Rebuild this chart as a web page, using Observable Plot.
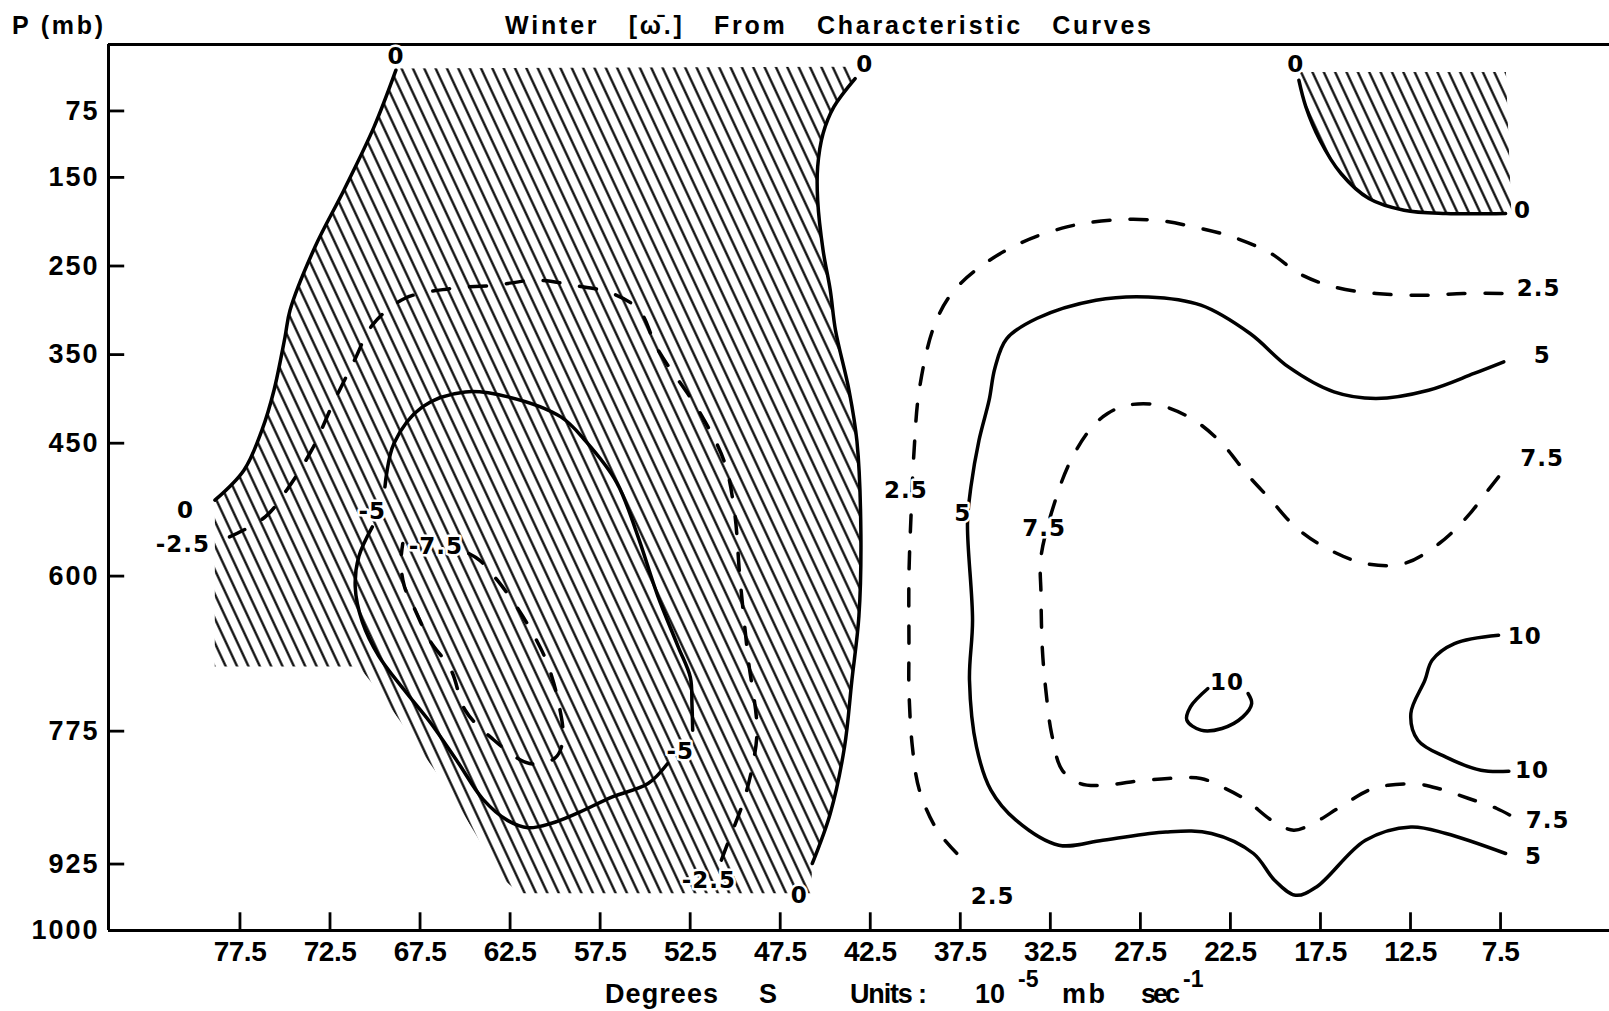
<!DOCTYPE html>
<html>
<head>
<meta charset="utf-8">
<script src="https://cdn.jsdelivr.net/npm/d3@7"></script>
<script src="https://cdn.jsdelivr.net/npm/@observablehq/plot@0.6"></script>
<style>
  body { margin: 0; background: #fff; }
  svg text { white-space: pre; }
</style>
</head>
<body>
<div id="chart"></div>
<script>
// Axis ticks: latitude (degrees S, decreasing to the right) and pressure (mb, increasing downward)
const latTicks = [77.5, 72.5, 67.5, 62.5, 57.5, 52.5, 47.5, 42.5, 37.5, 32.5, 27.5, 22.5, 17.5, 12.5, 7.5];
const pTicks = [75, 150, 250, 350, 450, 600, 775, 925, 1000];
const latDomain = [84.8, 1.45];
const pDomain = [0, 1000];

// Contours of winter [omega], points as [latitude °S, pressure mb]
const zeroWest = [[68.84,29],[70.06,93.3],[71.73,164.4],[73.34,228.8],[74.72,299.9],[75.0,330.4],[75.61,390.2],[76.28,435.3],[77.28,480.5],[78.89,514.3]];
const zeroMid = [[43.34,38.4],[44.52,70.4],[45.12,100.5],[45.42,138.1],[45.42,175.7],[45.12,232.2],[44.72,277.3],[44.43,322.5],[43.68,390.2],[43.24,447.7],[43.02,552.7],[43.13,645.3],[43.52,717.5],[43.93,792.8],[44.72,867.9],[45.72,924.4]];
const zeroEast = [[18.70,40.3],[18.31,70.4],[17.53,108],[16.36,145.6],[14.81,173.8],[12.86,187],[10.53,190.7],[7.22,190.7]];

const minus25 = [[78.08,555.8],[76.10,533.2],[74.91,503],[73.52,457.9],[72.33,405.2],[71.14,356.3],[70.15,316.8],[68.36,286.7],[65.78,275.4],[63.31,271.7],[61.03,266],[59.01,271.7],[56.82,281],[55.33,299.9],[54.31,343.8],[52.03,413.2],[50.6,471.1],[50.03,529],[49.75,598.5],[49.29,691.2],[48.79,773.9],[49.09,819.1],[49.58,856.7],[50.28,894.4],[50.77,920.7]];
const minus5Upper = [[69.45,499.3],[68.95,450.3],[67.37,409],[64.99,392.1],[62.61,397.7],[59.68,420.3],[58.29,448],[56.58,494.4],[55.45,552.3],[54.31,621.7],[53.17,679.6],[52.49,714.3],[52.4,745],[52.36,773.9]];
const minus5Lower = [[53.75,811.5],[54.84,834.1],[56.82,849.2],[58.8,867.9],[60.2,879],[61.5,884],[62.62,876],[64.0,852],[65.4,810],[66.9,766],[68.4,728],[69.8,690],[70.7,652],[71.1,612],[70.9,578],[70.15,544.5]];
const minus75 = [[64.79,574.5],[64.2,582],[63.21,604.6],[62.01,638.5],[61.03,672.4],[60.43,698.6],[59.84,740],[59.57,785.2],[60.01,805.5],[61.42,811.5],[63.6,781.5],[64.99,751.4],[65.78,706],[66.97,672.3],[67.77,638.5],[68.36,612.2],[68.56,585.8],[68.46,563.2]];

const plus25 = [[7.42,281],[9.56,281],[11.89,283],[14.42,281],[16.75,273.6],[18.69,258.5],[20.25,235.9],[22.39,217.2],[24.52,205.9],[26.67,198.3],[29.19,198.3],[31.58,205.9],[34.21,224.6],[36.4,251],[37.98,281],[38.97,318.7],[39.78,390.1],[40.07,459.6],[40.23,529],[40.35,598.5],[40.35,679.6],[40.35,728.8],[40.16,792.8],[39.77,841.6],[38.78,886.8],[37.6,915]];
const plus5 = [[7.32,358.2],[8.97,371.3],[11.5,390.2],[14.42,399.5],[16.75,392.1],[19.28,363.9],[21.41,326.2],[24.14,294.2],[27.06,284.9],[29.97,288.6],[33.23,309],[34.93,332.2],[35.58,365.3],[35.9,401.5],[36.46,446.6],[36.91,499.3],[37.1,540.6],[36.82,649.8],[36.99,717.5],[36.6,792.8],[35.8,841.6],[34.41,875.5],[32.03,903.7],[29.58,898.1],[26.08,888.7],[23.55,890.5],[21.22,913.1],[20.05,943.2],[18.89,960.2],[17.72,950.8],[15.0,898.1],[12.48,883.1],[10.53,890.5],[7.22,913.1]];
const plus75 = [[7.61,488],[8.19,503],[9.36,533.2],[10.91,563.2],[12.86,585.8],[15.0,585.8],[17.14,568.8],[18.89,544.5],[20.25,514.3],[21.61,484.2],[22.97,450.3],[24.52,424],[26.47,407.1],[28.21,407.1],[29.32,416.5],[30.25,433.4],[31.36,469.2],[32.19,512.4],[33.02,578.3],[33.02,619.6],[32.94,683.6],[32.73,732.5],[32.43,777.7],[31.84,819.1],[30.84,834.1],[29.39,836],[28.03,832.3],[25.97,828.4],[24.14,828.4],[22.97,837.9],[21.7,851.8],[20.14,876.6],[18.99,886.8],[17.92,879.2],[16.42,860.8],[14.81,841.6],[13.74,836],[12.04,834.9],[10.82,840.5],[9.27,851],[7.71,862.3],[6.64,873.6]];
const plus10East = [[7.61,666.7],[10.06,676.1],[11.3,694.9],[11.7,717.5],[12.48,755],[12.09,785.2],[10.53,804.4],[8.59,819.1],[7.04,820.2]];
const plus10Cell = [[23.75,726.9],[24.72,747.6],[24.92,762.6],[24.14,773.9],[22.97,772],[21.81,758.9],[21.32,743.8],[21.52,732.5]];

// Regions of negative [omega] (rising motion), drawn hatched
const hatchWest = [[68.9,27],[43.5,25],[43.34,38.4],[44.52,70.4],[45.12,100.5],[45.42,138.1],[45.42,175.7],[45.12,232.2],[44.72,277.3],[44.43,322.5],[43.68,390.2],[43.24,447.7],[43.02,552.7],[43.13,645.3],[43.52,717.5],[43.93,792.8],[44.72,867.9],[45.72,924.4],[45.8,958],[62.0,958],[63.0,939.5],[65.7,847.3],[67.6,792.8],[69.35,742],[70.9,702],[78.9,702],[78.89,514.3],[77.28,480.5],[76.28,435.3],[75.61,390.2],[75.0,330.4],[74.72,299.9],[73.34,228.8],[71.73,164.4],[70.06,93.3],[68.84,29]];
const hatchEast = [[18.8,31],[7.2,31],[6.9,190.7],[7.22,190.7],[10.53,190.7],[12.86,187],[14.81,173.8],[16.36,145.6],[17.53,108],[18.31,70.4],[18.70,40.3]];

// Contour value labels
const contourLabels = [
  {lat: 68.84, p: 13.7, t: "0"}, {lat: 42.8, p: 22.9, t: "0"}, {lat: 46.44, p: 961, t: "0"},
  {lat: 18.87, p: 22.9, t: "0"}, {lat: 6.28, p: 187.5, t: "0"}, {lat: 80.52, p: 525.6, t: "0"},
  {lat: 80.67, p: 565, t: "-2.5"}, {lat: 51.46, p: 943.7, t: "-2.5"},
  {lat: 70.15, p: 527.5, t: "-5"}, {lat: 53.05, p: 798.4, t: "-5"},
  {lat: 66.62, p: 566.6, t: "-7.5"},
  {lat: 5.38, p: 275.4, t: "2.5"}, {lat: 40.52, p: 503.6, t: "2.5"}, {lat: 35.7, p: 962, t: "2.5"},
  {lat: 5.19, p: 350.7, t: "5"}, {lat: 37.37, p: 529.3, t: "5"}, {lat: 5.67, p: 917, t: "5"},
  {lat: 5.19, p: 467.3, t: "7.5"}, {lat: 32.84, p: 546.3, t: "7.5"}, {lat: 4.89, p: 875.5, t: "7.5"},
  {lat: 6.15, p: 668.6, t: "10"}, {lat: 5.76, p: 819.1, t: "10"}, {lat: 22.69, p: 720.2, t: "10"}
];

const pts = (arr) => arr.map(([lat, p]) => ({lat, p}));
const solid = {x: "lat", y: "p", stroke: "black", strokeWidth: 3.5, curve: "catmull-rom", strokeLinecap: "round", strokeLinejoin: "round"};
const dashed = {...solid, strokeDasharray: "17,20"};
const hatch = {x: "lat", y: "p", fill: "url(#hatch)", stroke: "none", curve: "linear"};
const labelFont = "'DejaVu Sans', sans-serif";
const axisFont = "'Liberation Sans', Arial, sans-serif";

const chart = Plot.plot({
  width: 1609,
  height: 1011,
  marginLeft: 108,
  marginRight: 0,
  marginTop: 44,
  marginBottom: 81,
  style: {fontFamily: axisFont, fontWeight: "bold", background: "white", color: "black"},
  x: {domain: latDomain},
  y: {domain: pDomain, reverse: true},
  marks: [
    Plot.line(pts(hatchWest), hatch),
    Plot.line(pts(hatchEast), hatch),
    // frame: left axis, top and bottom lines
    Plot.ruleX([latDomain[0]], {stroke: "black", strokeWidth: 3}),
    Plot.ruleY([pDomain[0], pDomain[1]], {stroke: "black", strokeWidth: 3}),
    // inward ticks
    Plot.ruleX(latTicks, {y1: 1000, y2: 980, stroke: "black", strokeWidth: 2.8}),
    Plot.ruleY(pTicks, {x1: latDomain[0], x2: latDomain[0] - 0.9, stroke: "black", strokeWidth: 2.8}),
    Plot.axisX({ticks: latTicks, tickSize: 0, tickPadding: 11, tickFormat: (d) => d.toFixed(1), fontSize: 28, fontWeight: "bold", label: null}),
    Plot.axisY({ticks: pTicks, tickSize: 0, tickPadding: 9, tickFormat: (d) => String(d), fontSize: 27, fontWeight: "bold", label: null}),
    // contours
    Plot.line(pts(zeroWest), solid),
    Plot.line(pts(zeroMid), solid),
    Plot.line(pts(zeroEast), solid),
    Plot.line(pts(minus25), dashed),
    Plot.line(pts(minus5Upper), solid),
    Plot.line(pts(minus5Lower), solid),
    Plot.line(pts(minus75), dashed),
    Plot.line(pts(plus25), dashed),
    Plot.line(pts(plus5), solid),
    Plot.line(pts(plus75), dashed),
    Plot.line(pts(plus10East), solid),
    Plot.line(pts(plus10Cell), solid),
    Plot.text(contourLabels, {x: "lat", y: "p", text: "t", fontFamily: labelFont, fontSize: 23, fontWeight: "bold", fill: "black", stroke: "white", strokeWidth: 5, paintOrder: "stroke"})
  ]
});

const svg = d3.select(chart);

// letter spacing for the wide lettering of the axis numbers
svg.selectAll("g[aria-label='x-axis tick label'] text").attr("letter-spacing", -0.5);
svg.selectAll("g[aria-label='y-axis tick label'] text").attr("letter-spacing", 2);
svg.selectAll("g[aria-label='text'] text").attr("letter-spacing", 1);

// hatch pattern: thin lines slanting down to the right
const pattern = svg.insert("defs", ":first-child").append("pattern")
  .attr("id", "hatch")
  .attr("patternUnits", "userSpaceOnUse")
  .attr("width", 10.3)
  .attr("height", 20)
  .attr("patternTransform", "rotate(-25)");
pattern.append("line")
  .attr("x1", 5.15).attr("y1", -2).attr("x2", 5.15).attr("y2", 22)
  .attr("stroke", "black").attr("stroke-width", 2.2);

function label(x, y, text, size, opts = {}) {
  const t = svg.append("text")
    .attr("x", x).attr("y", y)
    .attr("text-anchor", "start")
    .attr("font-family", axisFont)
    .attr("font-weight", "bold")
    .attr("font-size", size)
    .attr("fill", "black")
    .text(text);
  if (opts.length) t.attr("textLength", opts.length).attr("lengthAdjust", "spacing");
  return t;
}

// title and pressure-axis label
label(505, 34, "Winter   [ω\u0304.]   From   Characteristic   Curves", 25, {length: 646});
label(12, 34, "P (mb)", 25, {length: 91});

// caption under the latitude axis
label(605, 1003, "Degrees", 27, {length: 113});
label(759, 1003, "S", 27);
label(850, 1003, "Units :", 27, {length: 77});
label(975, 1003, "10", 27);
label(1018, 987, "-5", 23);
label(1062, 1003, "mb", 27, {length: 43});
label(1141, 1003, "sec", 27, {length: 39});
label(1183, 987, "-1", 23);

document.getElementById("chart").appendChild(chart);
</script>
</body>
</html>
